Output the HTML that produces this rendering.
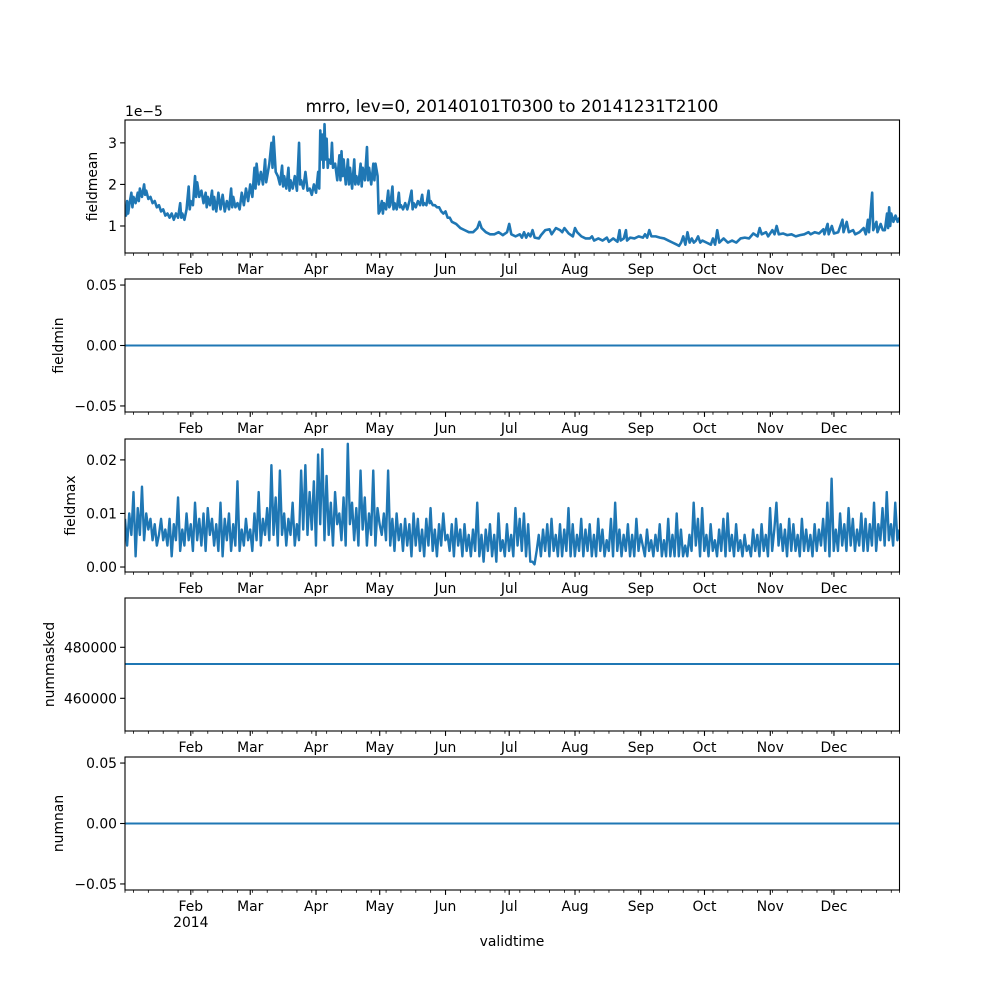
<!DOCTYPE html>
<html><head><meta charset="utf-8">
<style>
html,body{margin:0;padding:0;background:#fff;}
svg{display:block;font-family:"DejaVu Sans","Liberation Sans",sans-serif;}
</style></head>
<body>
<svg id="fig" width="1000" height="1000" viewBox="0 0 1000 1000" xmlns="http://www.w3.org/2000/svg">
<rect width="1000" height="1000" fill="#fff"/>
<text x="512" y="112" font-size="16.7" text-anchor="middle">mrro, lev=0, 20140101T0300 to 20141231T2100</text>
<text x="512" y="946" font-size="13.9" text-anchor="middle">validtime</text>
</svg>
<script>
// ---- data ----
const monthLabels = ["Feb","Mar","Apr","May","Jun","Jul","Aug","Sep","Oct","Nov","Dec"];
const monthStartDays = [31,59,90,120,151,181,212,243,273,304,334];
const meanDays = [0,0.5,1,1.5,2,3,3.5,4,5,6,6.5,7,8,9,9.5,10,11,12,13,14,15,16,17,18,19,20,21,22,23,24,25,26,26.5,27,28,29,30,30.5,31,32,33,33.5,34,35,36,37,38,38.5,39,40,41,41.5,42,43,44,45,46,47,48,49,50,50.5,51,52,53,54,55,56,57,58,59,60,61,61.5,62,63,64,65,66,66.5,67,68,69,69.5,70,71,72,73,74,74.5,75,76,77,77.5,78,79,80,81,82,82.5,83,84,85,86,87,88,89,90,91,91.5,92,92.5,93,93.5,94,94.5,95,95.5,96,97,97.5,98,99,100,101,101.5,102,102.5,103,104,105,105.5,106,107,108,108.5,109,110,111,111.5,112,113,114,114.5,115,116,117,117.5,118,119,119.5,120,121,121.5,122,123,124,124.5,125,126,126.5,127,128,129,129.5,130,131,132,133,134,135,135.5,136,137,138,139,140,140.5,141,142,143,143.5,144,145,146,147,148,149,150,151,152,153,154,156,158,160,162,164,166,167,168,170,172,174,176,178,180,181,182,184,186,187,188,189,190,191,192,193,195,196,198,200,201,203,205,206,207,209,211,212,213,215,217,219,220,221,223,225,227,228,230,232,233,233.5,235,236,236.5,238,240,242,244,245,246,247,248,250,252,254,256,258,260,261,262,263,264,265,266,267,268,269,270,271,272,274,276,277,278,279,280,282,284,286,288,290,292,294,296,298,299,300,302,303,305,306,307,308,310,312,314,316,318,320,322,323,325,327,329,329.5,331,331.5,333,334,336,338,338.5,340,341,343,344,346,348,349,350,350.5,352,352.5,354,354.5,356,357,358,359,359.5,360,360.5,361,362,363,364,364.875];
const meanValues = [1.4,1.25,1.6,1.3,1.5,1.8,1.45,1.7,1.55,1.8,1.6,1.9,1.7,2.0,1.75,1.85,1.65,1.7,1.55,1.6,1.45,1.5,1.35,1.4,1.25,1.3,1.2,1.3,1.15,1.3,1.2,1.55,1.2,1.3,1.15,1.4,1.95,1.4,1.6,1.5,2.2,1.7,2.05,1.7,1.85,1.55,1.8,1.45,1.7,1.5,1.85,1.4,1.7,1.35,1.8,1.4,1.75,1.35,1.6,1.4,1.9,1.45,1.7,1.45,1.55,1.4,1.8,1.5,1.9,1.6,2.0,1.7,2.4,1.9,2.5,2.0,2.3,2.0,2.6,2.05,2.2,2.5,3.0,2.4,3.15,2.3,2.2,2.0,2.45,1.95,2.2,1.9,2.4,1.85,2.1,1.9,2.2,1.85,3.0,2.0,2.1,1.9,2.3,1.85,1.9,1.75,2.0,1.8,2.3,1.9,3.3,2.6,3.2,2.4,3.45,2.6,3.1,2.4,2.6,2.5,3.0,2.4,2.5,2.1,2.7,2.1,2.8,2.2,2.6,2.0,2.6,2.0,2.4,1.9,2.6,2.0,2.2,2.0,2.5,1.95,2.4,2.1,2.9,2.1,2.4,2.0,2.5,2.1,2.5,2.2,1.3,1.35,1.6,1.3,1.55,1.4,1.85,1.45,1.5,1.95,1.4,1.55,1.4,1.8,1.45,1.5,1.4,1.55,1.4,1.6,1.85,1.4,1.55,1.45,1.6,1.5,1.75,1.5,1.55,1.5,1.85,1.55,1.6,1.5,1.5,1.45,1.45,1.35,1.3,1.35,1.2,1.2,1.1,1.05,0.95,0.9,0.85,0.85,0.95,1.1,0.95,0.85,0.8,0.8,0.85,0.78,0.85,1.05,0.8,0.75,0.8,0.72,0.85,0.72,0.82,0.75,0.9,0.72,0.7,0.78,0.9,0.92,0.8,0.95,0.9,0.85,0.95,0.82,0.75,0.95,0.85,0.75,0.7,0.7,0.75,0.65,0.7,0.65,0.72,0.62,0.7,0.62,0.9,0.65,0.7,0.9,0.65,0.72,0.7,0.75,0.72,0.8,0.72,0.9,0.75,0.75,0.72,0.7,0.65,0.6,0.55,0.52,0.6,0.75,0.55,0.85,0.6,0.7,0.6,0.65,0.75,0.6,0.65,0.6,0.55,0.7,0.55,0.9,0.6,0.7,0.6,0.65,0.6,0.7,0.72,0.7,0.82,0.75,0.95,0.8,0.85,0.75,0.9,0.8,1.0,0.8,0.82,0.78,0.8,0.75,0.78,0.8,0.85,0.8,0.85,0.82,0.92,0.8,1.05,0.8,1.0,0.82,0.85,1.15,0.85,1.1,0.85,0.9,0.8,0.85,0.95,0.8,1.15,0.85,1.8,0.9,1.1,0.85,1.05,0.9,0.9,1.3,0.95,1.45,1.0,1.3,1.1,1.25,1.1,1.2];
const maxValues = [9,4,10,6,14,2,11,6,15,5,10,7,9,5,8,4,6,9,5,7,4,9,2,8,5,13,3,7,4,10,5,
8,3,12,5,9,4,10,3,11,6,9,4,8,3,12,2,9,5,10,3,8,4,16,3,7,4,9,5,
7,3,10,5,14,4,9,6,11,5,19,6,13,4,18,6,10,4,9,6,12,4,8,5,18,7,19,6,14,7,16,
4,21,8,22,5,17,6,12,4,14,8,10,5,13,4,23,8,12,5,11,4,18,7,13,4,10,6,18,4,11,8,
6,10,5,18,4,9,3,10,5,8,3,9,4,8,2,10,4,9,3,7,2,9,4,11,3,7,2,8,4,10,5,
6,3,8,2,9,4,7,2,8,3,6,2,7,3,12,2,6,1,7,3,8,2,6,1,10,3,5,2,8,3,
6,2,11,4,9,3,10,2,8,1,1,0.5,3,6,2,7,3,8,2,9,3,6,2,8,2,7,3,11,2,8,2,
6,3,9,2,7,3,8,2,6,2,9,3,7,2,5,3,9,2,12,3,7,2,6,3,8,2,6,2,9,3,6,
4,2,7,3,5,2,6,3,8,2,5,2,9,2,6,2,10,2,7,2,4,2,6,3,12,4,9,2,11,3,
6,2,8,3,5,2,7,3,9,2,10,3,6,2,8,3,5,2,6,3,4,2,7,3,6,2,8,3,6,2,11,
3,7,12,4,8,3,7,2,9,3,8,3,6,2,9,3,7,3,6,2,8,3,7,4,9,3,12,2,16.5,3,
7,3,10,4,8,3,11,4,9,3,7,4,10,3,9,3,8,4,12,3,8,5,11,4,14,5,8,4,12,5,7];
const minValue = [0];
const maskedValue = [473450];
const nanValue = [0];
const meanTicks = [1,2,3], meanTickLabels = ["1","2","3"];
const zeroTicks = [-0.05,0,0.05], zeroTickLabels = ["\u22120.05","0.00","0.05"];
const maxTicks = [0,0.01,0.02], maxTickLabels = ["0.00","0.01","0.02"];
const maskTicks = [460000,480000], maskTickLabels = ["460000","480000"];

// ---- layout ----
const NS="http://www.w3.org/2000/svg";
const svg=document.getElementById('fig');
const X0=125, X1=899.5, TEND=364.875;
const xs=d=>X0+(d/TEND)*(X1-X0);
function el(tag,attrs,parent){const e=document.createElementNS(NS,tag);for(const k in attrs)e.setAttribute(k,attrs[k]);(parent||svg).appendChild(e);return e;}
function txt(s,attrs,parent){const t=el('text',attrs,parent);t.textContent=s;return t;}

const panels=[
 {name:'fieldmean',top:120,bot:253,ymin:0.35,ymax:3.55,ticks:meanTicks,labels:meanTickLabels,lx:97,sw:2.6},
 {name:'fieldmin',top:279,bot:412,ymin:-0.055,ymax:0.055,ticks:zeroTicks,labels:zeroTickLabels,lx:63,sw:2.1},
 {name:'fieldmax',top:439,bot:572,ymin:-0.00093,ymax:0.0239,ticks:maxTicks,labels:maxTickLabels,lx:75,sw:2.4},
 {name:'nummasked',top:598,bot:731,ymin:447180,ymax:499330,ticks:maskTicks,labels:maskTickLabels,lx:54,sw:2.1},
 {name:'numnan',top:757,bot:890,ymin:-0.055,ymax:0.055,ticks:zeroTicks,labels:zeroTickLabels,lx:63,sw:2.1}
];
panels.forEach((p,pi)=>{
 const g=el('g',{});
 
 
 const ys=v=>p.bot-(v-p.ymin)/(p.ymax-p.ymin)*(p.bot-p.top);
 let pts=[];
 if(pi===0){meanDays.forEach((d,i)=>pts.push(xs(d).toFixed(2)+','+ys(meanValues[i]).toFixed(2)));}
 else if(pi===2){const n=maxValues.length;maxValues.forEach((v,i)=>pts.push(xs(i*TEND/(n-1)).toFixed(2)+','+ys(v/1000).toFixed(2)));}
 else{const v=pi===1?minValue[0]:pi===3?maskedValue[0]:nanValue[0];pts.push(xs(0)+','+ys(v));pts.push(xs(TEND)+','+ys(v));}
 const cp=el('clipPath',{id:'c'+pi},g);el('rect',{x:X0,y:p.top,width:X1-X0,height:p.bot-p.top},cp);
 const line=el('polyline',{points:pts.join(' '),fill:'none',stroke:'#1f77b4','stroke-width':p.sw,'stroke-linejoin':'round','clip-path':'url(#c'+pi+')'},g);
 
 
 const fr=el('rect',{x:X0,y:p.top,width:X1-X0,height:p.bot-p.top,fill:'none',stroke:'#000','stroke-width':1.1},g);
 
 
 p.ticks.forEach((t,i)=>{
  const y=ys(t);
  el('line',{x1:X0-4.9,x2:X0,y1:y,y2:y,stroke:'#000','stroke-width':1.1},g);
  const tl=txt(p.labels[i],{x:X0-8,y:y+5,'font-size':13.9,'text-anchor':'end'},g);
  
  
 });
 monthStartDays.forEach((d,i)=>{
  const x=xs(d);
  el('line',{x1:x,x2:x,y1:p.bot,y2:p.bot+4.9,stroke:'#000','stroke-width':1.1},g);
  const ml=txt(monthLabels[i],{x:x,y:p.bot+21,'font-size':13.9,'text-anchor':'middle'},g);
  
  
 });
 for(let d=4;d<=TEND;d+=7){const x=xs(d);el('line',{x1:x,x2:x,y1:p.bot,y2:p.bot+2.8,stroke:'#000','stroke-width':0.8},g);}
 el('line',{x1:X0,x2:X0,y1:p.bot,y2:p.bot+2.8,stroke:'#000','stroke-width':0.8},g);
 el('line',{x1:X1,x2:X1,y1:p.bot,y2:p.bot+2.8,stroke:'#000','stroke-width':0.8},g);
 const cy=(p.top+p.bot)/2;
 const yl=txt(p.name,{x:p.lx,y:cy,'font-size':13.9,'text-anchor':'middle',transform:'rotate(-90 '+p.lx+' '+cy+')'},g);
 
 
});
const off=txt('1e\u22125',{x:125,y:116,'font-size':13.9},svg);


const yr=txt('2014',{x:xs(31),y:927,'font-size':13.9,'text-anchor':'middle'},svg);


</script>
</body></html>
